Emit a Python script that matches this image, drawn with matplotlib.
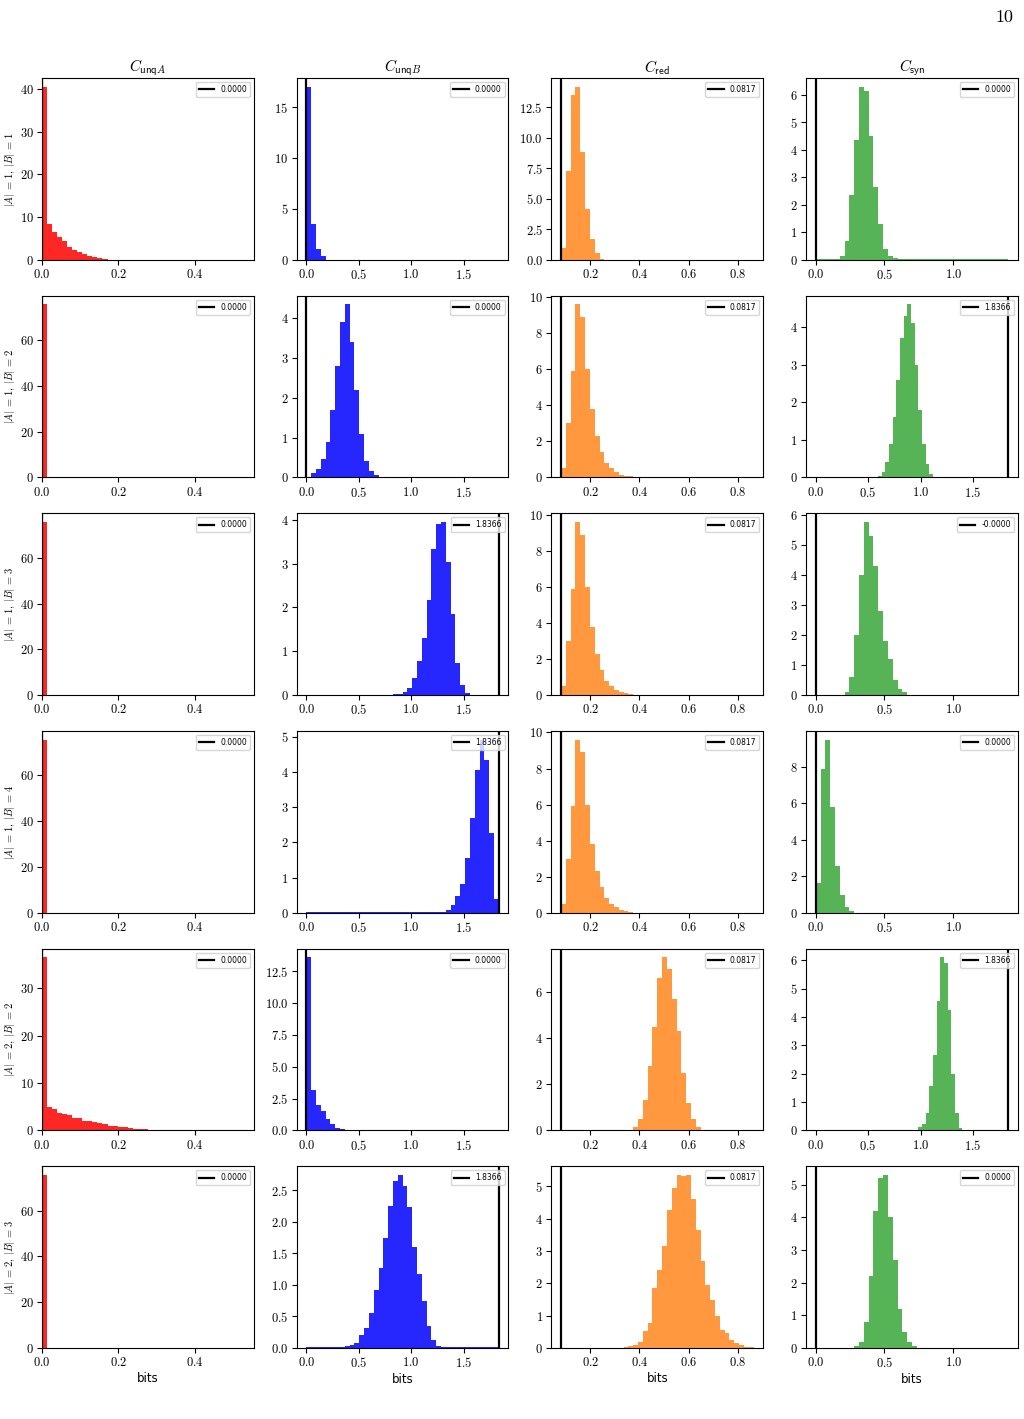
import numpy as np
import matplotlib
matplotlib.use('Agg')
import matplotlib.pyplot as plt

plt.rcParams['font.family'] = 'serif'
plt.rcParams['font.serif'] = ['cmr10']
plt.rcParams['mathtext.fontset'] = 'cm'
plt.rcParams['axes.unicode_minus'] = False
plt.rcParams['axes.formatter.use_mathtext'] = True

titles = [r'$C_{\mathsf{unq}A}$', r'$C_{\mathsf{unq}B}$', r'$C_{\mathsf{red}}$', r'$C_{\mathsf{syn}}$']
row_labels = [r'$|A|$ = 1, $|B|$ = 1', r'$|A|$ = 1, $|B|$ = 2', r'$|A|$ = 1, $|B|$ = 3',
              r'$|A|$ = 1, $|B|$ = 4', r'$|A|$ = 2, $|B|$ = 2', r'$|A|$ = 2, $|B|$ = 3']
colors = ['red', 'blue', 'C1', 'C2']
alphas = [0.85, 0.85, 0.8, 0.8]
n_bins = 40
bin_ranges = [(0.0, 0.528), (0.0, 1.8366), (0.0817, 0.863), (0.0, 1.4)]

# true values (vertical line + legend) per row
true_unqA = [0.0, 0.0, 0.0, 0.0, 0.0, 0.0]
true_unqB = [0.0, 0.0, 1.8366, 1.8366, 0.0, 1.8366]
true_red = [0.0817, 0.0817, 0.0817, 0.0817, 0.0817, 0.0817]
true_syn = [0.0, 1.8366, -0.0, 0.0, 1.8366, 0.0]

# histogram densities: first non-empty bin, heights from there, tiny floor elsewhere
unqA_start = [0, 0, 0, 0, 0, 0]
unqA_heights = [
    [40.6, 8.5, 6.4, 5.4, 4.3, 3.1, 2.2, 1.7, 1.3, 0.8, 0.55, 0.3, 0.1],
    [75.7],
    [75.6],
    [75.6],
    [36.5, 4.9, 4.5, 3.7, 3.5, 3.2, 2.6, 2.6, 2.0, 2.0, 1.8, 1.6, 1.4, 1.0, 1.0, 0.8, 0.7, 0.5, 0.3, 0.3, 0.3, 0.1],
    [75.6],
]
unqA_floor = [0, 0, 0.02, 0.02, 0, 0.02]

unqB_start = [0, 0, 18, 27, 0, 7]
unqB_heights = [
    [17.0, 3.5, 1.05, 0.35],
    [0.02, 0.1, 0.2, 0.45, 0.9, 1.7, 2.8, 3.9, 4.35, 3.4, 2.2, 1.1, 0.4, 0.15, 0.05],
    [0.02, 0.03, 0.08, 0.15, 0.38, 0.77, 1.3, 2.17, 3.33, 3.9, 3.95, 3.03, 1.85, 0.73, 0.23, 0.05],
    [0.01, 0.03, 0.08, 0.22, 0.47, 0.82, 1.55, 2.68, 4.07, 4.92, 4.35, 2.28, 0.38],
    [13.6, 3.2, 2.0, 1.5, 0.9, 0.5, 0.2, 0.1],
    [0.02, 0.03, 0.05, 0.08, 0.2, 0.32, 0.56, 0.92, 1.26, 1.75, 2.25, 2.64, 2.74, 2.56, 2.24,
     1.6, 1.18, 0.75, 0.35, 0.13, 0.04, 0.02, 0.02],
]
unqB_floor = [0, 0.01, 0.01, 0.01, 0, 0.01]

red_start = [0, 0, 0, 0, 15, 13]
red_heights = [
    [1.0, 7.3, 13.5, 14.2, 8.8, 4.2, 1.7, 0.55, 0.1],
    [0.5, 3.0, 5.9, 9.6, 8.9, 6.0, 3.8, 2.3, 1.4, 0.8, 0.5, 0.3, 0.15, 0.1, 0.05],
    [0.5, 3.0, 5.9, 9.6, 8.9, 6.0, 3.8, 2.3, 1.4, 0.8, 0.5, 0.3, 0.15, 0.1, 0.05],
    [0.5, 3.0, 5.9, 9.6, 8.9, 6.0, 3.8, 2.3, 1.4, 0.8, 0.5, 0.3, 0.15, 0.1, 0.05],
    [0.15, 0.5, 1.3, 2.8, 4.5, 6.6, 7.5, 7.0, 5.7, 4.3, 2.5, 1.2, 0.5, 0.15],
    [0.02, 0.05, 0.1, 0.2, 0.52, 0.78, 1.87, 2.42, 3.15, 4.27, 4.95, 5.35, 5.32, 5.35, 4.6,
     3.65, 2.7, 1.95, 1.5, 1.0, 0.55, 0.45, 0.25, 0.17, 0.08, 0.03, 0.02],
]
red_floor = [0, 0.01, 0.01, 0.01, 0, 0.01]

syn_start = [5, 17, 6, 0, 28, 8]
syn_heights = [
    [0.15, 0.67, 2.35, 4.35, 6.3, 6.15, 4.5, 2.65, 1.3, 0.38, 0.12, 0.05],
    [0.05, 0.15, 0.4, 0.9, 1.6, 2.6, 3.7, 4.3, 4.6, 4.1, 3.0, 1.8, 0.9, 0.35, 0.1],
    [0.1, 0.6, 2.0, 4.0, 5.76, 5.3, 4.3, 2.8, 1.8, 1.2, 0.5, 0.2, 0.1],
    [1.65, 7.9, 9.5, 5.8, 2.55, 1.0, 0.3, 0.1],
    [0.12, 0.22, 0.6, 1.55, 2.65, 4.55, 6.1, 5.9, 4.25, 2.0, 0.6, 0.1],
    [0.05, 0.2, 0.8, 2.2, 4.2, 5.2, 5.3, 4.0, 2.7, 1.2, 0.5, 0.2, 0.05],
]
syn_floor = [0.01, 0, 0.01, 0.01, 0, 0.01]

columns = [
    (true_unqA, unqA_start, unqA_heights, unqA_floor),
    (true_unqB, unqB_start, unqB_heights, unqB_floor),
    (true_red, red_start, red_heights, red_floor),
    (true_syn, syn_start, syn_heights, syn_floor),
]

fig, axes = plt.subplots(6, 4, figsize=(10.24, 14.19), dpi=100)
fig.subplots_adjust(left=0.041, right=0.994, top=0.945, bottom=0.05, wspace=0.203, hspace=0.198)

for j, (truths, starts, heights, floors) in enumerate(columns):
    lo, hi = bin_ranges[j]
    edges = np.linspace(lo, hi, n_bins + 1)
    centers = 0.5 * (edges[:-1] + edges[1:])
    for i in range(6):
        ax = axes[i, j]
        w = np.full(n_bins, floors[i], dtype=float)
        w[starts[i]:starts[i] + len(heights[i])] = heights[i]
        ax.hist(centers, bins=edges, weights=w, color=colors[j], alpha=alphas[j])
        ax.axvline(truths[i], color='k', lw=1.6, label=f'{truths[i]:.4f}')
        ax.legend(loc='upper right', prop={'family': 'DejaVu Sans', 'size': 5.5})
        ax.tick_params(labelsize=9, pad=2.5)
        if j == 0:
            ax.set_xlim(left=0)
            ax.set_ylabel(row_labels[i], fontsize=7.5, labelpad=2)
        if i == 0:
            ax.set_title(titles[j], fontsize=11, pad=4)
        if i == 5:
            ax.set_xlabel('bits', fontfamily='DejaVu Sans', fontsize=8.5, labelpad=2)

fig.text(0.99, 0.993, '10', ha='right', va='top', fontsize=13)
fig.savefig('out.png', dpi=100)
